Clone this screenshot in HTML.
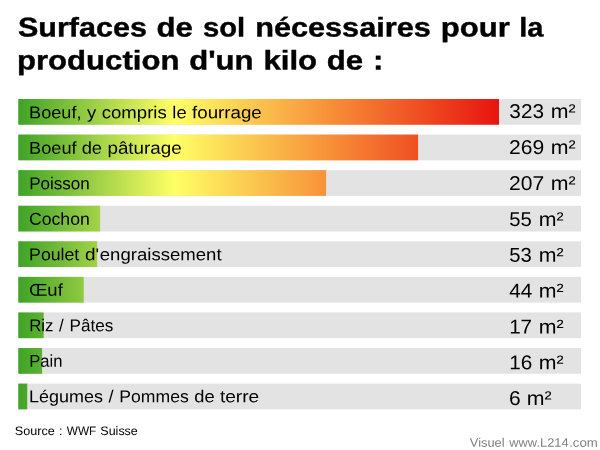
<!DOCTYPE html>
<html lang="fr"><head><meta charset="utf-8"><title>Surfaces de sol nécessaires pour la production d'un kilo de :</title>
<style>
html,body{margin:0;padding:0;background:#fff}
body{width:600px;height:450px;overflow:hidden}
#chart{position:relative;width:600px;height:450px;overflow:hidden;background:#fff;font-family:"Liberation Sans",sans-serif;color:#000}
#bars{position:absolute;left:0;top:0;display:block}
#txt{position:absolute;left:0;top:0;width:600px;height:450px;filter:grayscale(1)}
.w{position:absolute;left:0;top:0;white-space:pre;transform-origin:0 0;display:block}
h1,p,ul,li{margin:0;padding:0;font-weight:normal;font-size:inherit;list-style:none}
h1 .w{font-weight:bold;font-size:27.1px;line-height:31px;-webkit-text-stroke:0.4px #000}
.lab .w{font-size:17.17px;line-height:20px}
.val .w{font-size:19.93px;line-height:22px}
.src .w{font-size:12.3px;line-height:14px}
.credit .w{font-size:12.3px;line-height:14px;color:#808080}
</style></head>
<body>
<div id="chart">
<svg id="bars" width="600" height="450" viewBox="0 0 600 450">
<defs><linearGradient id="g" gradientUnits="userSpaceOnUse" x1="18.3" y1="0" x2="499.0" y2="0">
<stop offset="0" stop-color="#3fa327"/><stop offset="0.325" stop-color="#ffff66"/><stop offset="0.65" stop-color="#f78f38"/><stop offset="1" stop-color="#e8140f"/>
</linearGradient></defs>
<rect x="18.3" y="99.00" width="562.7" height="25.75" fill="#e3e3e3"/>
<rect x="18.3" y="99.00" width="480.70" height="25.75" fill="url(#g)"/>
<rect x="18.3" y="134.57" width="562.7" height="25.75" fill="#e3e3e3"/>
<rect x="18.3" y="134.57" width="399.80" height="25.75" fill="url(#g)"/>
<rect x="18.3" y="170.15" width="562.7" height="25.75" fill="#e3e3e3"/>
<rect x="18.3" y="170.15" width="307.80" height="25.75" fill="url(#g)"/>
<rect x="18.3" y="205.73" width="562.7" height="25.75" fill="#e3e3e3"/>
<rect x="18.3" y="205.73" width="81.85" height="25.75" fill="url(#g)"/>
<rect x="18.3" y="241.30" width="562.7" height="25.75" fill="#e3e3e3"/>
<rect x="18.3" y="241.30" width="78.80" height="25.75" fill="url(#g)"/>
<rect x="18.3" y="276.88" width="562.7" height="25.75" fill="#e3e3e3"/>
<rect x="18.3" y="276.88" width="65.45" height="25.75" fill="url(#g)"/>
<rect x="18.3" y="312.45" width="562.7" height="25.75" fill="#e3e3e3"/>
<rect x="18.3" y="312.45" width="25.35" height="25.75" fill="url(#g)"/>
<rect x="18.3" y="348.03" width="562.7" height="25.75" fill="#e3e3e3"/>
<rect x="18.3" y="348.03" width="23.80" height="25.75" fill="url(#g)"/>
<rect x="18.3" y="383.60" width="562.7" height="25.75" fill="#e3e3e3"/>
<rect x="18.3" y="383.60" width="8.95" height="25.75" fill="url(#g)"/>
</svg>
<div id="txt">
<h1><span class="ln"><span class="w" style="transform:translate(18.02px,11.40px) scaleX(1.1254) skewY(.03deg)">Surfaces</span> <span class="w" style="transform:translate(156.40px,11.40px) scaleX(1.1500) skewY(.03deg)">de</span> <span class="w" style="transform:translate(203.07px,11.40px) scaleX(1.0769) skewY(.03deg)">sol</span> <span class="w" style="transform:translate(255.15px,11.40px) scaleX(1.1321) skewY(.03deg)">nécessaires</span> <span class="w" style="transform:translate(440.63px,11.40px) scaleX(1.1486) skewY(.03deg)">pour</span> <span class="w" style="transform:translate(519.29px,11.40px) scaleX(1.0703) skewY(.03deg)">la</span></span> <span class="ln"><span class="w" style="transform:translate(17.00px,44.50px) scaleX(1.1482) skewY(.03deg)">production</span> <span class="w" style="transform:translate(189.19px,44.50px) scaleX(1.1486) skewY(.03deg)">d'un</span> <span class="w" style="transform:translate(263.45px,44.50px) scaleX(1.1509) skewY(.03deg)">kilo</span> <span class="w" style="transform:translate(326.77px,44.50px) scaleX(1.1500) skewY(.03deg)">de</span> <span class="w" style="transform:translate(373.01px,44.50px) scaleX(1.1492) skewY(.03deg)">:</span></span></h1>
<ul>
<li><span class="lab"><span class="w" style="transform:translate(29.06px,102.20px) scaleX(1.0569) skewY(.03deg)">Boeuf,</span> <span class="w" style="transform:translate(86.89px,102.20px) scaleX(1.0763) skewY(.03deg)">y</span> <span class="w" style="transform:translate(101.76px,102.20px) scaleX(1.0822) skewY(.03deg)">compris</span> <span class="w" style="transform:translate(172.35px,102.20px) scaleX(1.0725) skewY(.03deg)">le</span> <span class="w" style="transform:translate(192.09px,102.20px) scaleX(1.0899) skewY(.03deg)">fourrage</span></span> <span class="val"><span class="w" style="transform:translate(509.33px,99.95px) scaleX(1.0423) skewY(.03deg)">323</span> <span class="w" style="transform:translate(550.75px,99.95px) scaleX(1.0698) skewY(.03deg)">m²</span></span></li>
<li><span class="lab"><span class="w" style="transform:translate(29.05px,137.70px) scaleX(1.0613) skewY(.03deg)">Boeuf</span> <span class="w" style="transform:translate(81.64px,137.70px) scaleX(1.0660) skewY(.03deg)">de</span> <span class="w" style="transform:translate(107.44px,137.70px) scaleX(1.0962) skewY(.03deg)">pâturage</span></span> <span class="val"><span class="w" style="transform:translate(508.97px,135.90px) scaleX(1.0585) skewY(.03deg)">269</span> <span class="w" style="transform:translate(550.75px,135.90px) scaleX(1.0698) skewY(.03deg)">m²</span></span></li>
<li><span class="lab"><span class="w" style="transform:translate(29.14px,173.20px) scaleX(0.9943) skewY(.03deg)">Poisson</span></span> <span class="val"><span class="w" style="transform:translate(508.97px,172.10px) scaleX(1.0588) skewY(.03deg)">207</span> <span class="w" style="transform:translate(550.75px,172.10px) scaleX(1.0698) skewY(.03deg)">m²</span></span></li>
<li><span class="lab"><span class="w" style="transform:translate(28.94px,208.70px) scaleX(1.0292) skewY(.03deg)">Cochon</span></span> <span class="val"><span class="w" style="transform:translate(509.35px,208.10px) scaleX(1.0163) skewY(.03deg)">55</span> <span class="w" style="transform:translate(538.80px,208.10px) scaleX(1.0698) skewY(.03deg)">m²</span></span></li>
<li><span class="lab"><span class="w" style="transform:translate(29.09px,244.20px) scaleX(1.0318) skewY(.03deg)">Poulet</span> <span class="w" style="transform:translate(84.88px,244.20px) scaleX(1.1029) skewY(.03deg)">d'</span><span class="w" style="transform:translate(99.80px,244.20px) scaleX(1.0820) skewY(.03deg)">engraissement</span></span> <span class="val"><span class="w" style="transform:translate(509.35px,243.85px) scaleX(1.0163) skewY(.03deg)">53</span> <span class="w" style="transform:translate(538.80px,243.85px) scaleX(1.0698) skewY(.03deg)">m²</span></span></li>
<li><span class="lab"><span class="w" style="transform:translate(28.90px,279.70px) scaleX(1.0761) skewY(.03deg)">Œuf</span></span> <span class="val"><span class="w" style="transform:translate(509.18px,279.55px) scaleX(1.0397) skewY(.03deg)">44</span> <span class="w" style="transform:translate(538.80px,279.55px) scaleX(1.0698) skewY(.03deg)">m²</span></span></li>
<li><span class="lab"><span class="w" style="transform:translate(29.16px,315.20px) scaleX(0.9779) skewY(.03deg)">Riz</span> <span class="w" style="transform:translate(59.00px,315.20px) scaleX(0.9870) skewY(.03deg)">/</span> <span class="w" style="transform:translate(69.62px,315.20px) scaleX(0.9960) skewY(.03deg)">Pâtes</span></span> <span class="val"><span class="w" style="transform:translate(509.15px,315.60px) scaleX(1.0339) skewY(.03deg)">17</span> <span class="w" style="transform:translate(538.80px,315.60px) scaleX(1.0698) skewY(.03deg)">m²</span></span></li>
<li><span class="lab"><span class="w" style="transform:translate(29.18px,350.70px) scaleX(0.9688) skewY(.03deg)">Pain</span></span> <span class="val"><span class="w" style="transform:translate(509.14px,351.30px) scaleX(1.0420) skewY(.03deg)">16</span> <span class="w" style="transform:translate(538.80px,351.30px) scaleX(1.0698) skewY(.03deg)">m²</span></span></li>
<li><span class="lab"><span class="w" style="transform:translate(29.07px,386.20px) scaleX(1.0461) skewY(.03deg)">Légumes</span> <span class="w" style="transform:translate(108.59px,386.20px) scaleX(1.0612) skewY(.03deg)">/</span> <span class="w" style="transform:translate(119.35px,386.20px) scaleX(1.0253) skewY(.03deg)">Pommes</span> <span class="w" style="transform:translate(194.27px,386.20px) scaleX(1.0660) skewY(.03deg)">de</span> <span class="w" style="transform:translate(219.96px,386.20px) scaleX(1.1122) skewY(.03deg)">terre</span></span> <span class="val"><span class="w" style="transform:translate(508.90px,386.90px) scaleX(1.0531) skewY(.03deg)">6</span> <span class="w" style="transform:translate(526.85px,386.90px) scaleX(1.0698) skewY(.03deg)">m²</span></span></li>
</ul>
<p class="src"><span class="w" style="transform:translate(14.85px,424.00px) scaleX(1.0264) skewY(.03deg)">Source</span> <span class="w" style="transform:translate(59.03px,424.00px) scaleX(1.0006) skewY(.03deg)">:</span> <span class="w" style="transform:translate(66.81px,424.00px) scaleX(0.9613) skewY(.03deg)">WWF</span> <span class="w" style="transform:translate(100.36px,424.00px) scaleX(1.0140) skewY(.03deg)">Suisse</span></p>
<p class="credit"><span class="w" style="transform:translate(469.79px,435.80px) scaleX(1.0464) skewY(.03deg)">Visuel</span> <span class="w" style="transform:translate(509.13px,435.80px) scaleX(1.0437) skewY(.03deg)">www</span><span class="w" style="transform:translate(536.49px,435.80px) scaleX(1.0455) skewY(.03deg)">.L214</span><span class="w" style="transform:translate(569.18px,435.80px) scaleX(1.0743) skewY(.03deg)">.com</span></p>
</div>
</div>
</body></html>
